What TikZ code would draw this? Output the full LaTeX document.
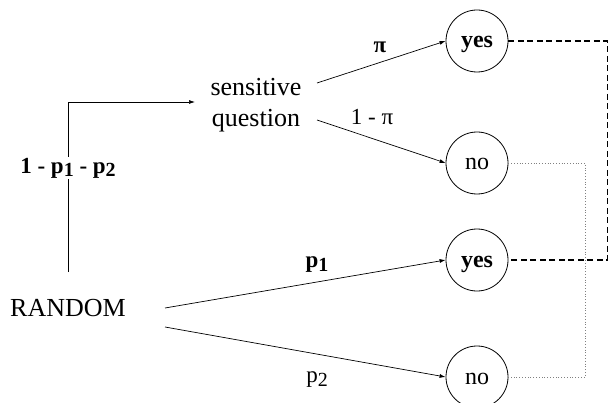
\documentclass[tikz,border=0pt]{standalone}
\usepackage{fontspec}
\setmainfont{Liberation Serif}
\usetikzlibrary{arrows.meta}
\newcommand\psub[1]{\raisebox{-0.3ex}{\fontsize{20}{21}\selectfont #1}}
\begin{document}
\begin{tikzpicture}[x=1pt,y=-1pt,
  big/.style={font=\fontsize{26}{31}\selectfont, align=center, inner sep=0pt},
  answer/.style={circle, draw, line width=0.8pt, minimum size=62pt, inner sep=0pt, text height=14pt, text depth=0pt, font=\fontsize{24}{26}\selectfont},
  lbl/.style={font=\fontsize{23}{25}\selectfont, inner sep=1pt},
  arr/.style={line width=0.7pt, -{Latex[length=6pt,width=4pt]}},
  yeslink/.style={line width=1.6pt, dash pattern=on 6pt off 3.5pt},
  nolink/.style={line width=0.8pt, gray, dotted}]
\clip (0,0) rectangle (609,403);
% nodes
\node[big] (sq) at (256,105) {sensitive\\question};
\node[big] (random) at (68,308) {RANDOM};
\node[answer, font=\fontsize{24}{26}\selectfont\bfseries] (y1) at (477,41) {yes};
\node[answer] (n1) at (477,163) {no};
\node[answer, font=\fontsize{24}{26}\selectfont\bfseries] (y2) at (477,260) {yes};
\node[answer] (n2) at (477,377) {no};
% free ends
\coordinate (rup) at (68,272);
\coordinate (sqin) at (195,102);
\coordinate (sqa) at (317,83);
\coordinate (sqb) at (317,120);
\coordinate (ra) at (165,308);
\coordinate (rb) at (165,327);
\coordinate (yc) at (607.5,41);
\coordinate (nc) at (585,163);
% connectors
\draw[arr] (rup) |- node[pos=0.306, lbl, fill=white, font=\fontsize{23}{25}\selectfont\bfseries] {1 - p\psub{1} - p\psub{2}} (sqin);
\draw[arr] (sqa) -- (y1.west);
\draw[arr] (sqb) -- (n1.west);
\draw[arr] (ra) -- (y2.west);
\draw[arr] (rb) -- (n2.west);
\draw[yeslink] (y1.east) -- (yc) |- (y2.east);
\draw[nolink] (n1.east) -- (nc) |- (n2.east);
% labels
\node[lbl, font=\fontsize{23}{25}\selectfont\bfseries] (lpi) at (380,47) {π};
\node[lbl] (lnpi) at (372,117) {1 - π};
\node[lbl, font=\fontsize{23}{25}\selectfont\bfseries] (lp1) at (317,265) {p\psub{1}};
\node[lbl] (lp2) at (317,380) {p\psub{2}};
\end{tikzpicture}
\end{document}
